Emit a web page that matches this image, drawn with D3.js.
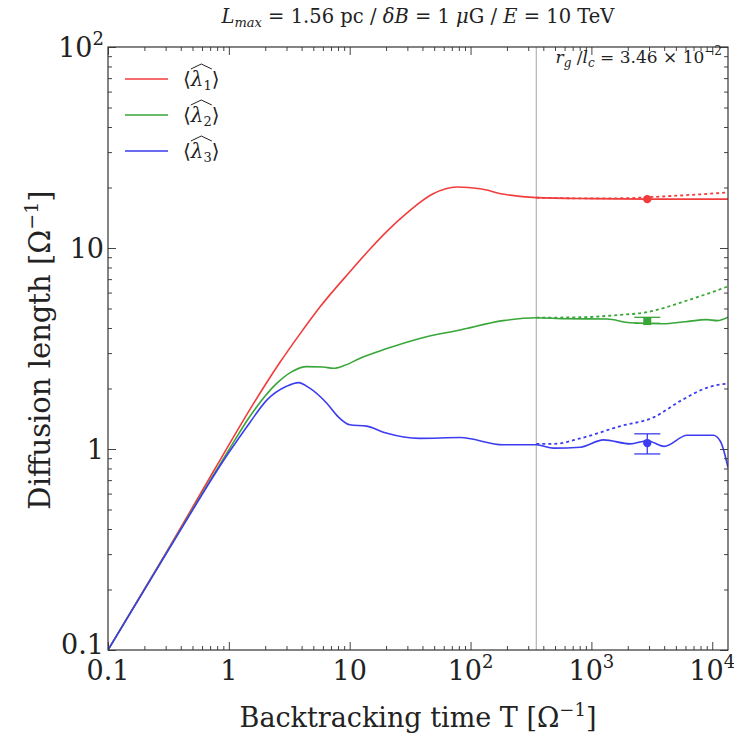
<!DOCTYPE html>
<html>
    <head>
        <meta charset="utf-8">
        <style>
            body { margin: 0; background: #fff; }
            svg text { font-family: "DejaVu Serif", serif; }
        </style>
    </head>
    <body>
        <svg width="734" height="734"></svg>
        <script src="https://d3js.org/d3.v7.min.js"></script>
        <script>
            // tick labels
            const xMajor = [0.1, 1, 10, 100, 1000, 10000];
            const xTickText = [["0.1", ""], ["1", ""], ["10", ""], ["10", "2"], ["10", "3"], ["10", "4"]];
            const yMajor = [0.1, 1, 10, 100];
            const yTickText = [["0.1", ""], ["1", ""], ["10", ""], ["10", "2"]];

            // lambda 1 (red)
            const t1 = [0.1, 0.3, 0.77, 1.5, 2.65, 3.88, 5.69, 10, 15, 20, 30, 49, 77, 120, 190, 350, 1000, 2900, 13500];
            const l1 = [0.1, 0.302, 0.8, 1.58, 2.7, 3.74, 5.1, 7.6, 10.0, 12.0, 15.0, 18.6, 20.1, 19.7, 18.5, 17.8, 17.6, 17.5, 17.5];
            const t1d = [350, 1000, 2000, 3000, 5000, 8000, 13500];
            const l1d = [17.8, 17.65, 17.7, 17.9, 18.2, 18.5, 18.9];

            // lambda 2 (green)
            const t2 = [0.1, 0.3, 1, 1.5, 2.49, 3.3, 4.4, 6, 7.3, 9, 12.2, 20, 38, 82, 186, 350, 600, 1350, 2080, 3900, 6000, 9000, 11000, 13500];
            const l2 = [0.1, 0.3, 0.99, 1.46, 2.12, 2.42, 2.57, 2.56, 2.52, 2.6, 2.83, 3.15, 3.55, 3.91, 4.35, 4.5, 4.45, 4.43, 4.25, 4.2, 4.3, 4.4, 4.35, 4.53];
            const t2d = [350, 920, 1500, 2900, 6200, 13500];
            const l2d = [4.5, 4.53, 4.62, 4.8, 5.48, 6.44];

            // lambda 3 (blue)
            const t3 = [0.1, 0.3, 1, 1.5, 2.06, 3.0, 3.77, 4.6, 6.46, 8, 10, 13.8, 20, 38, 82, 186, 350, 486, 810, 1260, 2100, 2900, 4000, 6200, 10200, 11700, 13500];
            const l3 = [0.1, 0.298, 0.96, 1.36, 1.75, 2.05, 2.14, 2.02, 1.69, 1.45, 1.32, 1.30, 1.20, 1.13, 1.14, 1.05, 1.05, 1.01, 1.02, 1.11, 1.06, 1.1, 1.03, 1.17, 1.17, 1.09, 0.81];
            const t3d = [350, 486, 810, 1740, 3300, 5500, 9100, 13500];
            const l3d = [1.06, 1.06, 1.13, 1.30, 1.44, 1.74, 2.02, 2.12];

            // markers with error bars at T = 2900
            const markT = 2900;
            const markVal = [17.5, 4.33, 1.07];
            const errLo = [null, 4.22, 0.945];
            const errHi = [null, 4.52, 1.19];
            const markShape = ["circle", "square", "circle"];

            const vLineT = 350;
            const colors = ["#f23c3c", "#38a638", "#3c3cf0"];
            const labels = ["1", "2", "3"];

            let svg = d3.select("svg");
            let mLeft = 108, mRight = 728, mTop = 47, mBottom = 650;

            let x = d3.scaleLog().domain([0.1, 13500]).range([mLeft, mRight]);
            let y = d3.scaleLog().domain([0.1, 100]).range([mBottom, mTop]);

            let minorX = [], minorY = [];
            for (let d = 0.1; d < 20000; d *= 10) {
                for (let k = 2; k <= 9; k++) {
                    let v = k * d;
                    if (v < 13500) minorX.push(v);
                    if (v < 100) minorY.push(v);
                }
            }

            svg.append("clipPath").attr("id", "clip")
                .append("rect").attr("x", mLeft).attr("y", mTop)
                .attr("width", mRight - mLeft).attr("height", mBottom - mTop);

            // vertical line
            svg.append("line")
                .attr("x1", x(vLineT)).attr("x2", x(vLineT))
                .attr("y1", mTop).attr("y2", mBottom)
                .attr("stroke", "#b4b4b4").attr("stroke-width", 1.2);

            let line = d3.line()
                .x(d => x(d[0]))
                .y(d => y(d[1]))
                .curve(d3.curveMonotoneX);

            let solid = [d3.zip(t1, l1), d3.zip(t2, l2), d3.zip(t3, l3)];
            let dotted = [d3.zip(t1d, l1d), d3.zip(t2d, l2d), d3.zip(t3d, l3d)];

            let plot = svg.append("g").attr("clip-path", "url(#clip)");

            dotted.forEach((s, i) => {
                plot.append("path")
                    .attr("d", line(s))
                    .attr("fill", "none")
                    .attr("stroke", colors[i])
                    .attr("stroke-width", 1.8)
                    .attr("stroke-dasharray", "3,3");
            });
            solid.forEach((s, i) => {
                plot.append("path")
                    .attr("d", line(s))
                    .attr("fill", "none")
                    .attr("stroke", colors[i])
                    .attr("stroke-width", 1.6);
            });

            // markers + error bars
            markVal.forEach((v, i) => {
                let cx = x(markT), cy = y(v);
                if (errLo[i] !== null) {
                    let g = svg.append("g").attr("stroke", colors[i]).attr("stroke-width", 1.3);
                    g.append("line").attr("x1", cx).attr("x2", cx)
                        .attr("y1", y(errLo[i])).attr("y2", y(errHi[i]));
                    [errLo[i], errHi[i]].forEach(e => {
                        g.append("line").attr("x1", cx - 13).attr("x2", cx + 13)
                            .attr("y1", y(e)).attr("y2", y(e));
                    });
                }
                if (markShape[i] === "square") {
                    svg.append("rect").attr("x", cx - 4).attr("y", cy - 4)
                        .attr("width", 8).attr("height", 8).attr("fill", colors[i]);
                } else {
                    svg.append("circle").attr("cx", cx).attr("cy", cy)
                        .attr("r", 4.2).attr("fill", colors[i]);
                }
            });

            // axes frame and ticks (inward, all four sides)
            function ticks(axisFn, scale, vals, size, transform) {
                svg.append("g")
                    .attr("transform", transform)
                    .call(axisFn(scale).tickValues(vals).tickSize(size).tickFormat(""))
                    .call(g => g.select(".domain").remove())
                    .call(g => g.selectAll("line").attr("stroke", "#444"));
            }
            ticks(d3.axisBottom, x, xMajor, -8, `translate(0,${mBottom})`);
            ticks(d3.axisBottom, x, minorX, -4, `translate(0,${mBottom})`);
            ticks(d3.axisTop, x, xMajor, -8, `translate(0,${mTop})`);
            ticks(d3.axisTop, x, minorX, -4, `translate(0,${mTop})`);
            ticks(d3.axisLeft, y, yMajor, -8, `translate(${mLeft},0)`);
            ticks(d3.axisLeft, y, minorY, -4, `translate(${mLeft},0)`);
            ticks(d3.axisRight, y, yMajor, -8, `translate(${mRight},0)`);
            ticks(d3.axisRight, y, minorY, -4, `translate(${mRight},0)`);

            svg.append("rect")
                .attr("x", mLeft).attr("y", mTop)
                .attr("width", mRight - mLeft).attr("height", mBottom - mTop)
                .attr("fill", "none").attr("stroke", "#333").attr("stroke-width", 1.2);

            let ink = "#222";

            // tick labels
            xMajor.forEach((v, i) => {
                let t = svg.append("text")
                    .attr("x", x(v)).attr("y", mBottom + 30)
                    .attr("text-anchor", "middle").attr("fill", ink)
                    .attr("font-size", 27);
                t.append("tspan").text(xTickText[i][0]);
                if (xTickText[i][1]) t.append("tspan").attr("dy", -12).attr("font-size", 18).text(xTickText[i][1]);
            });
            yMajor.forEach((v, i) => {
                let t = svg.append("text")
                    .attr("x", mLeft - 4).attr("y", y(v) + 10 - (i === 0 ? 6 : 0))
                    .attr("text-anchor", "end").attr("fill", ink)
                    .attr("font-size", 27);
                t.append("tspan").text(yTickText[i][0]);
                if (yTickText[i][1]) t.append("tspan").attr("dy", -12).attr("font-size", 18).text(yTickText[i][1]);
            });

            // axis titles
            let xl = svg.append("text")
                .attr("x", 418).attr("y", 727).attr("fill", ink)
                .attr("text-anchor", "middle").attr("font-size", 27);
            xl.append("tspan").text("Backtracking time T [Ω");
            xl.append("tspan").attr("dy", -11).attr("font-size", 18).text("−1");
            xl.append("tspan").attr("dy", 11).text("]");

            let yl = svg.append("text")
                .attr("transform", "translate(50,350) rotate(-90)").attr("fill", ink)
                .attr("text-anchor", "middle").attr("font-size", 29);
            yl.append("tspan").text("Diffusion length [Ω");
            yl.append("tspan").attr("dy", -12).attr("font-size", 19).text("−1");
            yl.append("tspan").attr("dy", 12).text("]");

            // title
            let tt = svg.append("text")
                .attr("x", 418).attr("y", 23).attr("fill", ink)
                .attr("text-anchor", "middle").attr("font-size", 19.5);
            tt.append("tspan").attr("font-style", "italic").text("L");
            tt.append("tspan").attr("font-style", "italic").attr("font-size", 13).attr("dy", 4).text("max");
            tt.append("tspan").attr("dy", -4).text(" = 1.56 pc / ");
            tt.append("tspan").attr("font-style", "italic").text("δB");
            tt.append("tspan").text(" = 1 ");
            tt.append("tspan").attr("font-style", "italic").text("μ");
            tt.append("tspan").text("G / ");
            tt.append("tspan").attr("font-style", "italic").text("E");
            tt.append("tspan").text(" = 10 TeV");

            // annotation
            let an = svg.append("text")
                .attr("x", mRight - 6).attr("y", 63).attr("fill", ink)
                .attr("text-anchor", "end").attr("font-size", 17);
            an.append("tspan").attr("font-style", "italic").text("r");
            an.append("tspan").attr("font-style", "italic").attr("font-size", 12).attr("dy", 4).text("g");
            an.append("tspan").attr("dy", -4).text(" /");
            an.append("tspan").attr("font-style", "italic").text("l");
            an.append("tspan").attr("font-style", "italic").attr("font-size", 12).attr("dy", 4).text("c");
            an.append("tspan").attr("dy", -4).text(" = 3.46 × 10");
            an.append("tspan").attr("dy", -8).attr("font-size", 12).text("−2");

            // legend
            let leg = svg.append("g");
            labels.forEach((lab, i) => {
                let ly = 79 + i * 36;
                leg.append("line")
                    .attr("x1", 125).attr("x2", 168).attr("y1", ly).attr("y2", ly)
                    .attr("stroke", colors[i]).attr("stroke-width", 1.8).attr("opacity", 0.75);
                let t = leg.append("text").attr("x", 183).attr("y", ly + 7)
                    .attr("font-size", 20).attr("fill", ink);
                t.append("tspan").text("⟨");
                t.append("tspan").attr("font-style", "italic").text("λ");
                t.append("tspan").attr("font-size", 13).attr("dy", 4).text(lab);
                t.append("tspan").attr("dy", -4).text("⟩");
                // wide hat over lambda and subscript
                let n = t.node();
                let hx0 = n.getStartPositionOfChar(1).x, hx1 = n.getEndPositionOfChar(2).x;
                let hm = (hx0 + hx1) / 2;
                leg.append("path")
                    .attr("d", `M${hx0},${ly - 10} L${hm},${ly - 15} L${hx1},${ly - 10}`)
                    .attr("fill", "none").attr("stroke", ink).attr("stroke-width", 1);
            });
        </script>
    </body>
</html>
